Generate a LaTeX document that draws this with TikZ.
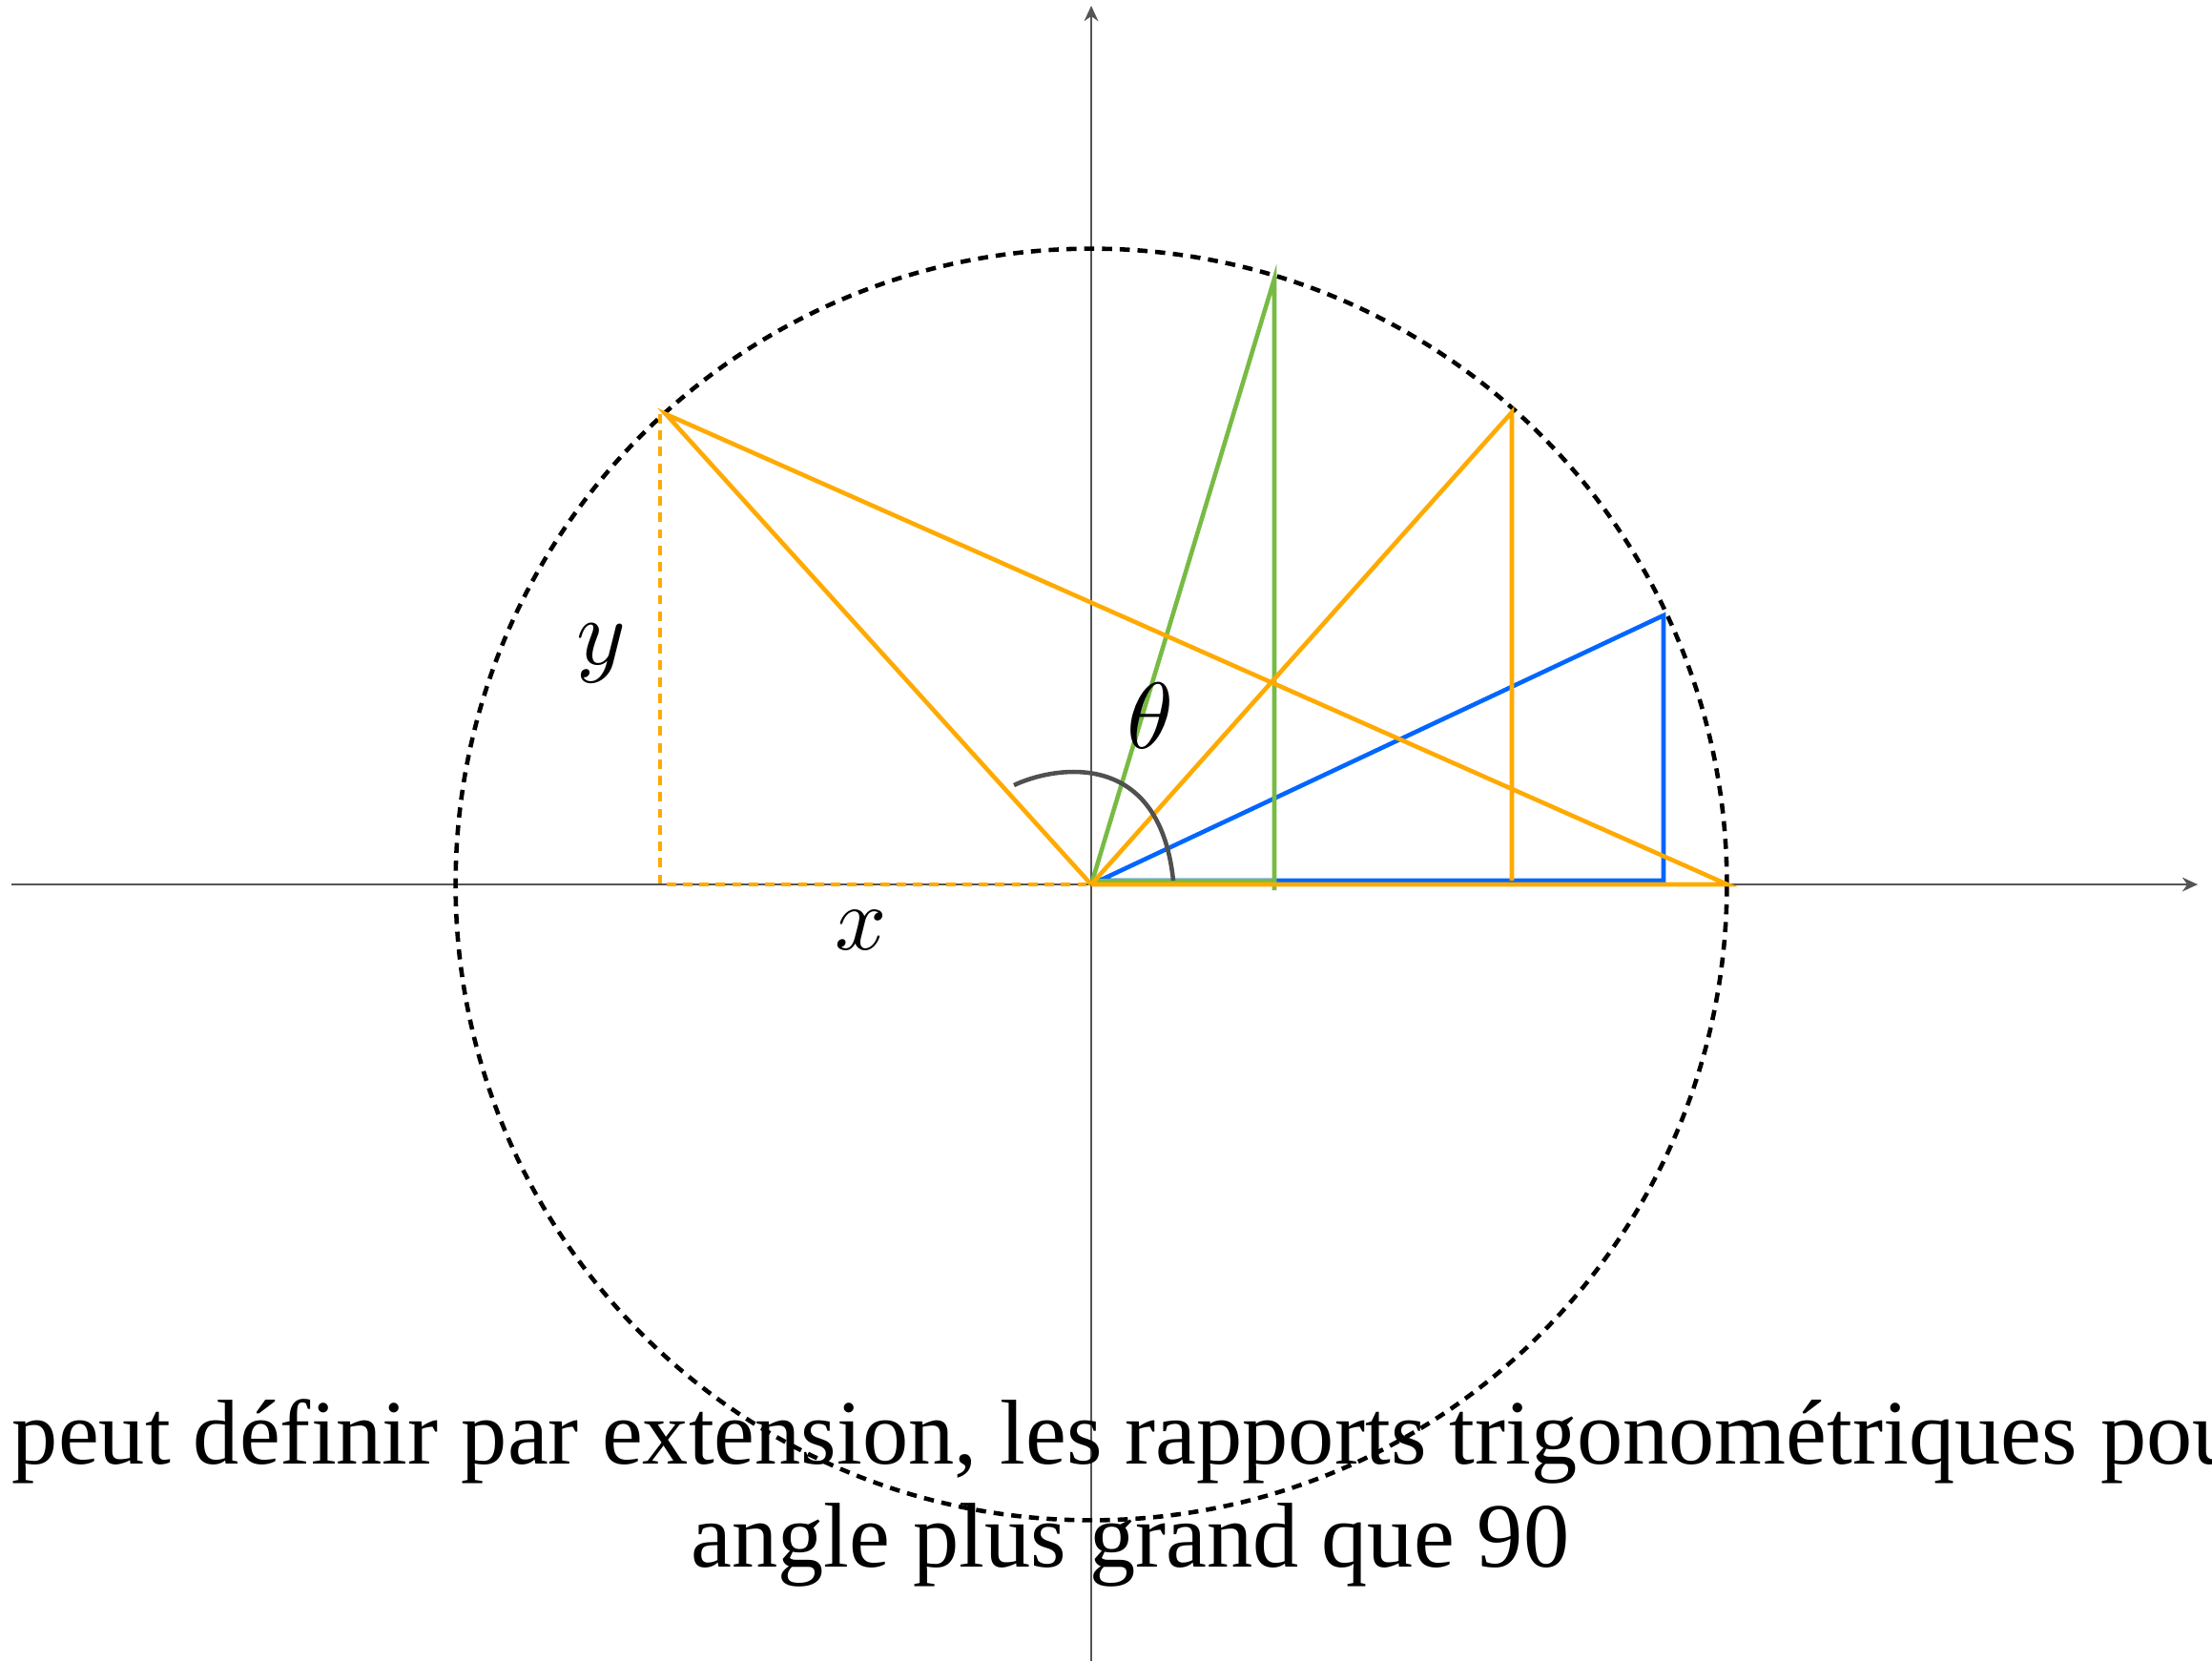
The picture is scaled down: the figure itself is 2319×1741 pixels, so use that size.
\documentclass[tikz,border=0pt]{standalone}
\usepackage{fontspec}
\setmainfont{Liberation Serif}
\usetikzlibrary{arrows.meta}
\definecolor{axisgray}{HTML}{555555}
\definecolor{arcgray}{HTML}{505050}
\definecolor{myorange}{HTML}{FFAA00}
\definecolor{mygreen}{HTML}{77BB44}
\definecolor{myblue}{HTML}{0066FF}
\tikzset{
  axisline/.style={draw=axisgray, line width=0.6pt, -{Stealth[length=4.6pt,width=4.2pt]}},
  unitcircle/.style={draw=black, line width=1.3pt, dash pattern=on 3pt off 2.3pt},
  orangeline/.style={draw=myorange, line width=1.3pt},
  orangedash/.style={draw=myorange, line width=1.3pt, dash pattern=on 2.8pt off 2.1pt},
  greenline/.style={draw=mygreen, line width=1.3pt},
  blueline/.style={draw=myblue, line width=1.3pt},
  anglearc/.style={draw=arcgray, line width=1.3pt},
  mathlabel/.style={inner sep=0pt},
}
\begin{document}
\begin{tikzpicture}[x=0.01cm,y=-0.01cm]
\useasboundingbox (0,0) rectangle (2319,1741);
% key points
\coordinate (O) at (1144,927);
\coordinate (XL) at (12,927);
\coordinate (XR) at (2304,927);
\coordinate (YB) at (1144,1741);
\coordinate (YT) at (1144,6);
\coordinate (A) at (698,434);
\coordinate (Ax) at (692,927);
\coordinate (Ay) at (692,434);
\coordinate (G) at (1336,292);
\coordinate (Gb) at (1336,933);
\coordinate (Gh) at (1336,923);
\coordinate (B) at (1585,432);
\coordinate (Bb) at (1585,923);
\coordinate (C) at (1744,645);
\coordinate (Cb) at (1744,923);
\coordinate (Oh) at (1144,923);
\coordinate (E) at (1811,927);
\coordinate (Arc0) at (1063,823);
\coordinate (Arc1) at (1230,923);
% axes
\draw[axisline] (XL) -- (XR);
\draw[axisline] (YB) -- (YT);
% circle
\draw[unitcircle] (O) circle[radius=6.66cm];
% blue
\draw[blueline] (O) -- (C) -- (Cb) -- (Oh);
% green
\draw[greenline] (O) -- (G) -- (Gb);
\draw[greenline] (Oh) -- (Gh);
% orange
\draw[orangeline] (O) -- (B) -- (Bb);
\draw[orangeline] (O) -- (E) -- (A) -- (O);
\draw[orangedash] (Ay) -- (Ax) -- (O);
% angle arc
\draw[anglearc] (Arc0) .. controls (1100,805) and (1215,780) .. (Arc1);
% labels
\node[mathlabel, scale=2.8] (theta) at (1206,750) {$\theta$};
\node[mathlabel, scale=2.8] (ylab) at (630,685) {$y$};
\node[mathlabel, scale=2.7] (xlab) at (903,975) {$x$};
\node[anchor=base, align=center, inner sep=0pt, font=\fontsize{27.4}{30.5}\selectfont] (caption) at (1185,1642)
  {On peut définir par extension, les rapports trigonométriques pour un\\angle plus grand que 90};
\end{tikzpicture}
\end{document}
